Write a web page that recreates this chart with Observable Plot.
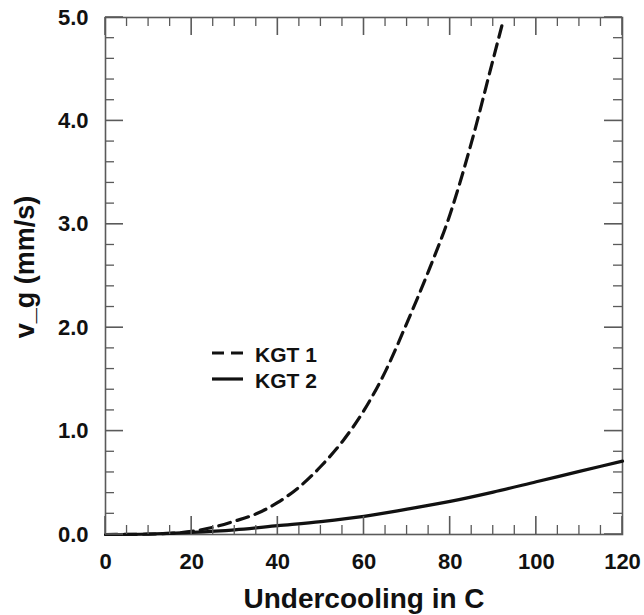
<!DOCTYPE html>
<html>
<head>
<meta charset="utf-8">
<script src="https://cdn.jsdelivr.net/npm/d3@7"></script>
<script src="https://cdn.jsdelivr.net/npm/@observablehq/plot@0.6"></script>
<style>
  html, body { margin: 0; padding: 0; background: #fff; }
  #wrap { position: relative; width: 644px; height: 615px; }
  #legend { position: absolute; left: 205px; top: 335px; }
</style>
</head>
<body>
<div id="wrap"></div>
<script>
// KGT 1 (dashed)
const kgt1Undercooling = [0, 5, 10, 15, 20, 25, 30, 35, 40, 45, 50, 55, 60, 65, 70, 75, 80, 85, 90, 92];
const kgt1Velocity     = [0, 0.001, 0.003, 0.012, 0.03, 0.07, 0.13, 0.2, 0.31, 0.46, 0.66, 0.9, 1.2, 1.58, 2.05, 2.55, 3.1, 3.8, 4.6, 4.92];
// KGT 2 (solid)
const kgt2Undercooling = [0, 10, 20, 30, 40, 50, 60, 70, 80, 90, 100, 110, 120];
const kgt2Velocity     = [0, 0.005, 0.02, 0.045, 0.085, 0.125, 0.175, 0.245, 0.32, 0.41, 0.51, 0.61, 0.71];

const seriesNames = ["KGT 1", "KGT 2"];
const xMajorTicks = [0, 20, 40, 60, 80, 100, 120];
const xMinorTicks = [5, 10, 15, 25, 30, 35, 45, 50, 55, 65, 70, 75, 85, 90, 95, 105, 110, 115];
const yMajorTicks = [0, 1, 2, 3, 4, 5];
const yMinorTicks = [0.2, 0.4, 0.6, 0.8, 1.2, 1.4, 1.6, 1.8, 2.2, 2.4, 2.6, 2.8, 3.2, 3.4, 3.6, 3.8, 4.2, 4.4, 4.6, 4.8];
const xLabel = "Undercooling in C";
const yLabel = "v_g (mm/s)";

const kgt1 = kgt1Undercooling.map((x, i) => ({x, v: kgt1Velocity[i]}));
const kgt2 = kgt2Undercooling.map((x, i) => ({x, v: kgt2Velocity[i]}));

const W = 644, H = 615;
const mL = 105, mR = 22, mT = 17, mB = 81;
const majorLen = 18, minorLen = 9;
const tickColor = "#5a5a5a";
const font = "Liberation Sans, Arial, sans-serif";
const ink = "#111";

const chart = Plot.plot({
  width: W,
  height: H,
  marginLeft: mL,
  marginRight: mR,
  marginTop: mT,
  marginBottom: mB,
  x: {domain: [0, 120]},
  y: {domain: [0, 5]},
  marks: [
    Plot.frame({stroke: tickColor, strokeWidth: 1.6}),
    Plot.line(kgt2, {x: "x", y: "v", stroke: ink, strokeWidth: 3.2, curve: "monotone-x"}),
    Plot.line(kgt1, {x: "x", y: "v", stroke: ink, strokeWidth: 3.2, strokeDasharray: "12,7", curve: "monotone-x"}),
    Plot.axisX(xMajorTicks, {anchor: "bottom", tickSize: 0, tickPadding: 19, label: null,
      fontSize: 22, fontWeight: "bold", fontFamily: font, fill: ink}),
    Plot.axisY(yMajorTicks, {anchor: "left", tickSize: 0, tickPadding: 17, label: null,
      fontSize: 22, fontWeight: "bold", fontFamily: font, fill: ink, tickFormat: d3.format(".1f")}),
    Plot.text([xLabel], {frameAnchor: "bottom", textAnchor: "middle", lineAnchor: "bottom", dy: 73,
      fontSize: 28, fontWeight: "bold", fontFamily: font, fill: ink}),
    Plot.text([yLabel], {frameAnchor: "left", textAnchor: "middle", lineAnchor: "bottom", rotate: -90, dx: -72, dy: -9,
      fontSize: 27, fontWeight: "bold", fontFamily: font, fill: ink})
  ]
});
document.getElementById("wrap").appendChild(chart);

// inward ticks on all four sides, placed through the chart's own x and y scales
const xs = chart.scale("x"), ys = chart.scale("y");
const X = v => xs.apply(v), Y = v => ys.apply(v);
const x0 = X(0), x1 = X(120), y0 = Y(0), y1 = Y(5);
const g = d3.select(chart).append("g").attr("class", "inward-ticks")
  .attr("stroke", tickColor).attr("fill", "none");
function addY(ticks, len, sw) {
  ticks.forEach(v => {
    g.append("line").attr("x1", x0).attr("x2", x0 + len).attr("y1", Y(v)).attr("y2", Y(v)).attr("stroke-width", sw);
    g.append("line").attr("x1", x1).attr("x2", x1 - len).attr("y1", Y(v)).attr("y2", Y(v)).attr("stroke-width", sw);
  });
}
function addX(ticks, len, sw) {
  ticks.forEach(v => {
    g.append("line").attr("y1", y0).attr("y2", y0 - len).attr("x1", X(v)).attr("x2", X(v)).attr("stroke-width", sw);
    g.append("line").attr("y1", y1).attr("y2", y1 + len).attr("x1", X(v)).attr("x2", X(v)).attr("stroke-width", sw);
  });
}
addY(yMajorTicks, majorLen, 1.6);
addY(yMinorTicks, minorLen, 1.3);
addX(xMajorTicks, majorLen, 1.6);
addX(xMinorTicks, minorLen, 1.3);

// legend overlay
const ns = "http://www.w3.org/2000/svg";
const leg = document.createElementNS(ns, "svg");
leg.setAttribute("id", "legend");
leg.setAttribute("width", 130);
leg.setAttribute("height", 60);
const rows = [{name: seriesNames[0], dash: "12,7", y: 18}, {name: seriesNames[1], dash: null, y: 44}];
rows.forEach(r => {
  const l = document.createElementNS(ns, "line");
  l.setAttribute("x1", 7); l.setAttribute("x2", 38);
  l.setAttribute("y1", r.y); l.setAttribute("y2", r.y);
  l.setAttribute("stroke", ink); l.setAttribute("stroke-width", 3.2);
  if (r.dash) l.setAttribute("stroke-dasharray", r.dash);
  leg.appendChild(l);
  const t = document.createElementNS(ns, "text");
  t.setAttribute("x", 50); t.setAttribute("y", r.y + 8.5);
  t.setAttribute("font-family", font);
  t.setAttribute("font-weight", "bold");
  t.setAttribute("font-size", 21);
  t.setAttribute("fill", ink);
  t.textContent = r.name;
  leg.appendChild(t);
});
document.getElementById("wrap").appendChild(leg);
</script>
</body>
</html>
